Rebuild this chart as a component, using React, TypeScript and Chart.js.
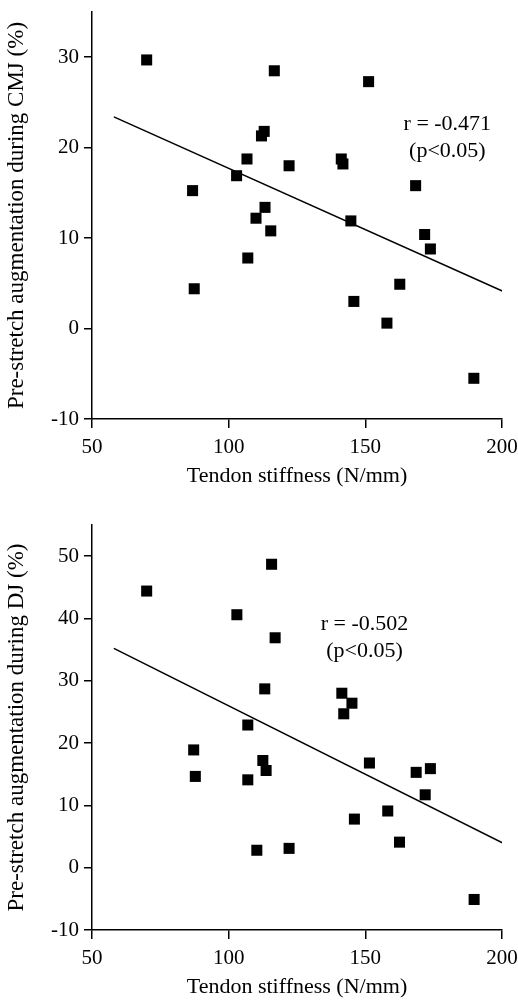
import React, { useEffect, useRef } from "react";
import { Chart, registerables } from "chart.js";

Chart.register(...registerables);

const FONT = "'Liberation Serif', 'Times New Roman', serif";

// Top panel: CMJ
const stiffnessCMJ = [70, 116.7, 151.2, 112, 113, 106.7, 122.1, 141.2, 141.8, 102.9, 86.8, 168.4, 113.3, 110, 115.4, 107, 87.4, 144.7, 171.7, 173.8, 162.6, 145.8, 157.9, 189.7];
const augmentCMJ = [29.7, 28.5, 27.3, 21.3, 21.8, 18.75, 18.0, 18.75, 18.2, 16.9, 15.25, 15.8, 13.4, 12.2, 10.8, 7.8, 4.4, 11.9, 10.4, 8.8, 4.9, 3.0, 0.6, -5.5];
const fitCMJx = [58, 202];
const fitCMJy = [23.4, 3.9];
const yTicksCMJ = [-10, 0, 10, 20, 30];
const rCMJ = "r = -0.471";

// Bottom panel: DJ
const stiffnessDJ = [70, 115.7, 103, 117, 113.2, 141.4, 145.1, 142.1, 107, 87.2, 87.8, 107, 112.5, 113.7, 110.3, 122.1, 151.5, 146, 158.2, 162.5, 168.6, 171.9, 173.8, 189.8];
const augmentDJ = [44.4, 48.7, 40.6, 36.9, 28.7, 28.0, 26.4, 24.7, 22.9, 18.9, 14.65, 14.1, 17.2, 15.6, 2.8, 3.1, 16.8, 7.8, 9.1, 4.1, 15.3, 11.7, 15.9, -5.1];
const fitDJx = [58, 201.5];
const fitDJy = [35.2, 3.7];
const yTicksDJ = [-10, 0, 10, 20, 30, 40, 50];
const rDJ = "r = -0.502";

const xTicks = [50, 100, 150, 200];
const pLabel = "(p<0.05)";
const xTitle = "Tendon stiffness (N/mm)";

type PanelProps = {
  xs: number[];
  ys: number[];
  fx: number[];
  fy: number[];
  yMax: number;
  yTicks: number[];
  yTitle: string;
  rText: string;
  annX: number;
  annY: number;
  padTop: number;
  xHeight: number;
  titlePadBottom: number;
};

function Panel(p: PanelProps) {
  const ref = useRef<HTMLCanvasElement | null>(null);
  useEffect(() => {
    if (!ref.current) return;
    const annotate = {
      id: "annotate",
      afterDatasetsDraw(chart: any) {
        const { ctx, scales } = chart;
        const x = scales.x.getPixelForValue(p.annX);
        const y = scales.y.getPixelForValue(p.annY);
        ctx.save();
        ctx.fillStyle = "#000";
        ctx.font = `22px ${FONT}`;
        ctx.textAlign = "center";
        ctx.textBaseline = "middle";
        ctx.fillText(p.rText, x, y);
        ctx.fillText(pLabel, x, y + 27);
        ctx.restore();
      },
    };
    const chart = new Chart(ref.current, {
      type: "scatter",
      data: {
        datasets: [
          {
            data: p.xs.map((x, i) => ({ x, y: p.ys[i] })),
            pointStyle: "rect",
            pointRadius: 7.8,
            backgroundColor: "#000",
            borderWidth: 0,
            showLine: false,
          },
          {
            data: p.fx.map((x, i) => ({ x, y: p.fy[i] })),
            showLine: true,
            pointRadius: 0,
            borderColor: "#000",
            borderWidth: 1.5,
          },
        ],
      },
      options: {
        animation: false,
        responsive: false,
        layout: { autoPadding: false, padding: { top: p.padTop, right: 16, left: 0, bottom: 0 } },
        plugins: { legend: { display: false }, tooltip: { enabled: false } },
        scales: {
          x: {
            type: "linear",
            min: 50,
            max: 200,
            afterBuildTicks: (s: any) => {
              s.ticks = xTicks.map((v) => ({ value: v }));
            },
            afterFit: (s: any) => {
              s.height = p.xHeight;
              s.paddingLeft = 0;
              s.paddingRight = 0;
            },
            grid: { drawOnChartArea: false, drawTicks: true, tickLength: 9, color: "#000", lineWidth: 1.5 },
            border: { display: true, color: "#000", width: 1.5 },
            ticks: { color: "#000", font: { family: FONT, size: 21 }, padding: 7, maxRotation: 0 },
            title: {
              display: true,
              text: xTitle,
              color: "#000",
              font: { family: FONT, size: 22 },
              padding: { top: 0, bottom: p.titlePadBottom },
            },
          },
          y: {
            type: "linear",
            min: -10,
            max: p.yMax,
            afterBuildTicks: (s: any) => {
              s.ticks = p.yTicks.map((v) => ({ value: v }));
            },
            afterFit: (s: any) => {
              s.width = 92;
              s.paddingTop = 0;
              s.paddingBottom = 0;
            },
            grid: { drawOnChartArea: false, drawTicks: true, tickLength: 8, color: "#000", lineWidth: 1.5 },
            border: { display: true, color: "#000", width: 1.5 },
            ticks: { color: "#000", font: { family: FONT, size: 21 }, padding: 5 },
            title: {
              display: true,
              text: p.yTitle,
              color: "#000",
              font: { family: FONT, size: 23 },
              padding: { top: 3, bottom: 0 },
            },
          },
        },
      },
      plugins: [annotate],
    } as any);
    return () => chart.destroy();
  }, []);
  return <canvas ref={ref} width={518} height={500} style={{ display: "block", width: 518, height: 500 }} />;
}

export default function App() {
  return (
    <div style={{ position: "absolute", left: 0, top: 0, width: 518, height: 1000, background: "#fff" }}>
      <Panel
        xs={stiffnessCMJ}
        ys={augmentCMJ}
        fx={fitCMJx}
        fy={fitCMJy}
        yMax={35}
        yTicks={yTicksCMJ}
        yTitle="Pre-stretch augmentation during CMJ (%)"
        rText={rCMJ}
        annX={180}
        annY={22.6}
        padTop={12}
        xHeight={81}
        titlePadBottom={11}
      />
      <Panel
        xs={stiffnessDJ}
        ys={augmentDJ}
        fx={fitDJx}
        fy={fitDJy}
        yMax={55}
        yTicks={yTicksDJ}
        yTitle="Pre-stretch augmentation during DJ (%)"
        rText={rDJ}
        annX={149.7}
        annY={39.1}
        padTop={25}
        xHeight={70}
        titlePadBottom={0}
      />
    </div>
  );
}
